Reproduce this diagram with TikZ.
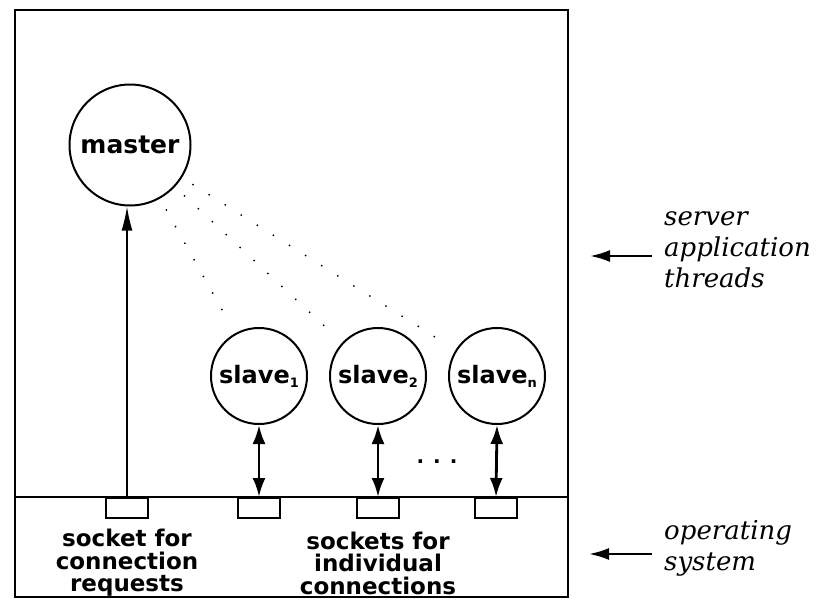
\documentclass[tikz,border=0pt]{standalone}
\usepackage{fontspec}
\newfontfamily\boxfont{DejaVu Sans}
\newfontfamily\sidefont{DejaVu Serif}
\usetikzlibrary{arrows.meta}

\newcommand{\slavesub}[1]{\raisebox{-4pt}{\fontsize{13}{13}\selectfont #1}}

\tikzset{
  thread/.style={circle, draw, line width=2pt, inner sep=0pt,
    font=\boxfont\bfseries\fontsize{24}{24}\selectfont},
  socket/.style={draw, line width=2pt, minimum width=42pt,
    minimum height=20pt, inner sep=0pt},
  boxtext/.style={align=center, inner sep=0pt,
    font=\boxfont\bfseries\fontsize{23}{22.5}\selectfont},
  sidetext/.style={align=left, anchor=west, inner sep=0pt,
    font=\sidefont\itshape\fontsize{26}{31}\selectfont},
  fan/.style={line width=2pt, line cap=round, dash pattern=on 0pt off 19pt,
    shorten <=13pt, shorten >=15pt},
  link/.style={line width=2.8pt, {Latex[length=19pt,width=13pt]}-{Latex[length=19pt,width=13pt]}},
  pointer/.style={line width=2.4pt, -{Latex[length=20pt,width=12pt]}}
}

\begin{document}
\begin{tikzpicture}[x=1pt,y=-1pt]
    \useasboundingbox (0,0) rectangle (826,605);

    \draw[line width=2.6pt] (15,10) rectangle (568,597);
    \draw[line width=2.6pt] (15,497) -- (568,497);

    \node[thread, minimum size=121pt, font=\boxfont\bfseries\fontsize{25}{25}\selectfont] (master) at (130,145) {master};
    \node[thread, minimum size=96pt] (slave1) at (259,376) {slave\slavesub{1}};
    \node[thread, minimum size=96pt] (slave2) at (378,376) {slave\slavesub{2}};
    \node[thread, minimum size=96pt] (slaven) at (497,376) {slave\slavesub{n}};

    \node[socket, anchor=north] (sockm) at (127,497) {};
    \node[socket, anchor=north] (sock1) at (259,497) {};
    \node[socket, anchor=north] (sock2) at (378,497) {};
    \node[socket, anchor=north] (sockn) at (496,497) {};

    \draw[line width=1.6pt, -{Latex[length=24pt,width=11pt]}] (sockm.north) -- (sockm.north |- master.south);
    \draw[link] (slave1.south) -- (sock1.north);
    \draw[link] (slave2.south) -- (sock2.north);
    \draw[link] (slaven.south) -- (sockn.north);

    \draw[fan] (master) -- (slave1);
    \draw[fan] (master) -- (slave2);
    \draw[fan] (master) -- (slaven);

    \node[font=\boxfont\bfseries\fontsize{20}{20}\selectfont] (more) at (437,462) {.\hspace{9pt}.\hspace{9pt}.};

    \node[boxtext] (reqtext) at (127,563) {socket for\\connection\\requests};
    \node[boxtext] (indtext) at (378,563) {sockets for\\individual\\connections};

    \node[sidetext] (apptext) at (664,250) {server\\application\\threads};
    \node[sidetext] (ostext) at (664,548) {operating\\system};

    \coordinate (append) at (652,256);
    \coordinate (osend) at (652,554);
    \draw[pointer] (append) -- ++(-62,0);
    \draw[pointer] (osend) -- ++(-63,0);
  \end{tikzpicture}
\end{document}
